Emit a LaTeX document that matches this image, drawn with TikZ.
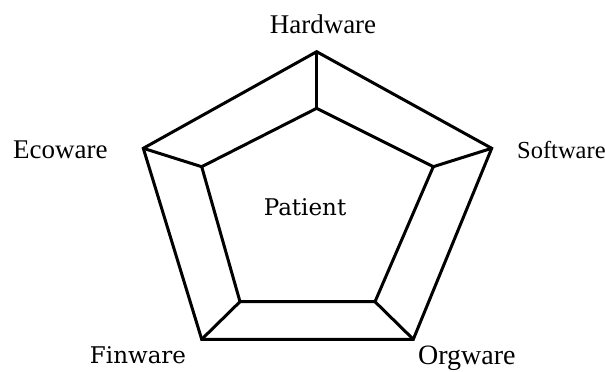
\documentclass[tikz,border=0pt]{standalone}
\usepackage{fontspec}
\newfontfamily\labelfont{Liberation Serif}
\newfontfamily\corefont{DejaVu Serif}
\begin{document}
\begin{tikzpicture}[x=1pt,y=-1pt,
  edge/.style={line width=3pt,line join=miter,line cap=round},
  ware/.style={font=\labelfont\fontsize{27}{30}\selectfont,inner sep=0pt},
  core/.style={font=\corefont\fontsize{23}{26}\selectfont,inner sep=0pt}]
  \useasboundingbox (0,0) rectangle (605,372);
  % outer pentagon
  \coordinate (oT) at (316.7,51.7);
  \coordinate (oR) at (491.7,148.3);
  \coordinate (oBR) at (413.3,339.3);
  \coordinate (oBL) at (201.7,339.3);
  \coordinate (oL) at (143.3,148.3);
  % inner pentagon
  \coordinate (iT) at (316.7,108.3);
  \coordinate (iR) at (433.3,166.7);
  \coordinate (iBR) at (375,301.7);
  \coordinate (iBL) at (240,301.7);
  \coordinate (iL) at (201.7,166.7);
  \draw[edge] (oT) -- (oR) -- (oBR) -- (oBL) -- (oL) -- cycle;
  \draw[edge] (iT) -- (iR) -- (iBR) -- (iBL) -- (iL) -- cycle;
  \draw[edge] (oT) -- (iT);
  \draw[edge] (oR) -- (iR);
  \draw[edge] (oBR) -- (iBR);
  \draw[edge] (oBL) -- (iBL);
  \draw[edge] (oL) -- (iL);
  % labels
  \node[ware,anchor=base] (hw) at (323,33) {Hardware};
  \node[ware,anchor=base west,font=\labelfont\fontsize{24.5}{28}\selectfont] (sw) at (517,158) {Software};
  \node[ware,anchor=base west] (ew) at (13,158) {Ecoware};
  \node[ware,anchor=base west,font=\labelfont\fontsize{28}{30}\selectfont] (ow) at (418,364) {Orgware};
  \node[core,anchor=base] (fw) at (138,363) {Finware};
  \node[core,anchor=base] (pt) at (305,215) {Patient};
\end{tikzpicture}
\end{document}
